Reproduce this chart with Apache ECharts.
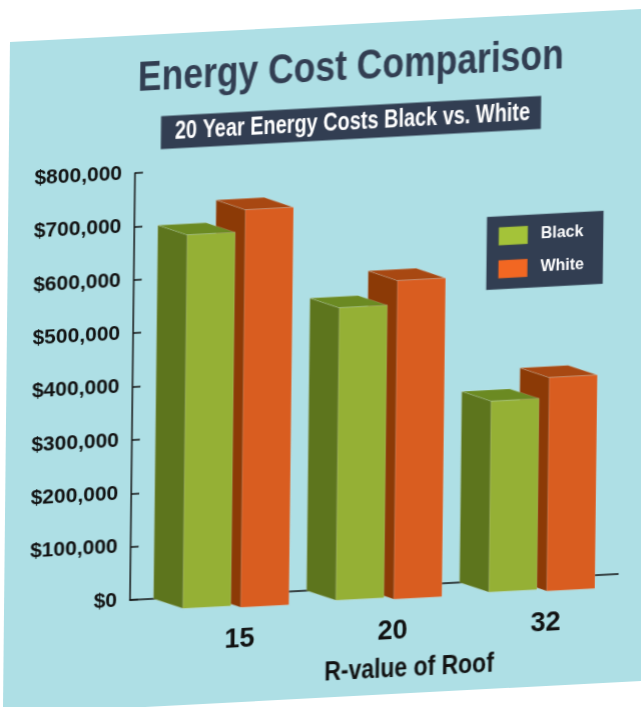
<!DOCTYPE html>
<html>
<head>
    <meta charset="utf-8">
    <title>Energy Cost Comparison</title>
    <script src="https://cdn.jsdelivr.net/npm/echarts@6/dist/echarts.min.js"></script>
</head>
<style>
    *{
        margin: 0;
        padding: 0;
    }
    html,body{
        width: 641px;
        height: 707px;
        overflow: hidden;
        background: #fff;
    }
    /* the teal sheet, tilted like the page in the original */
    .sheet{
        position: absolute;
        left: 0;
        top: 0;
        width: 641px;
        height: 707px;
        background: #aedfe5;
        clip-path: polygon(10px 42px, 641px 9px, 641px 681px, 145px 707px, 3px 707px);
    }
    /* whole chart is sheared a bit, same slant as the x axis and y axis */
    .echarts{
        position: absolute;
        left: 0;
        top: 0;
        width: 720px;
        height: 780px;
        transform-origin: 0 0;
        transform: matrix(1, -0.0533, -0.0117, 1, -12.75, -12);
    }
</style>
<body>
<div class="sheet"></div>
<div class="echarts"></div>

<script>
    const categories = ['15', '20', '32'];
    const blackValues = [700000, 548000, 358000];
    const whiteValues = [745000, 597000, 400000];
    const yMax = 800000;
    const yStep = 100000;

    const font = '"Liberation Sans", sans-serif';
    const navy = '#323e52';

    // 3d box sizes, in pixels
    const barW = 48;
    const depthX = 29.5;
    const depthY = 11.3;

    function boxRenderer(offset, shiftY, colors){
        return function (params, api) {
            let top = api.coord([api.value(0), api.value(1)]);
            let base = api.coord([api.value(0), 0]);
            let x = top[0] + offset;
            let t = top[1] + shiftY;
            let b = base[1] + shiftY;
            let edge = {stroke: 'rgba(235,240,235,0.3)', lineWidth: 0.6};
            return {
                type: 'group',
                children: [
                    {
                        type: 'polygon',
                        shape: {points: [[x, t], [x + depthX, t + depthY], [x + depthX, b + depthY], [x, b]]},
                        style: Object.assign({fill: colors.side}, edge)
                    },
                    {
                        type: 'polygon',
                        shape: {points: [[x, t], [x + barW, t], [x + barW + depthX, t + depthY], [x + depthX, t + depthY]]},
                        style: Object.assign({fill: colors.top}, edge)
                    },
                    {
                        type: 'polygon',
                        shape: {points: [[x + depthX, t + depthY], [x + depthX + barW, t + depthY], [x + depthX + barW, b + depthY], [x + depthX, b + depthY]]},
                        style: Object.assign({fill: colors.front}, edge)
                    }
                ]
            };
        };
    }

    // no condensed font here, so the big texts get squeezed with scaleX
    function squeezedText(text, x, y, size, scaleX, color){
        return {
            type: 'text',
            x: x,
            y: y,
            scaleX: scaleX,
            z: 10,
            style: {
                text: text,
                fill: color,
                font: 'bold ' + size + 'px ' + font,
                textAlign: 'center',
                textVerticalAlign: 'middle'
            }
        };
    }

    let chart = echarts.init(document.querySelector('.echarts'));
    let option = {
        animation: false,
        graphic: [
            squeezedText('Energy Cost Comparison', 364.7, 99.4, 43, 0.825, navy),
            {
                type: 'rect',
                shape: {x: 175.5, y: 137.4, width: 380, height: 33},
                style: {fill: navy},
                z: 9
            },
            squeezedText('20 Year Energy Costs Black vs. White', 367, 154, 25, 0.796, '#fff'),
            squeezedText('R-value of Roof', 430, 704, 27, 0.85, '#111')
        ],
        legend: {
            data: [
                {name: 'Black', itemStyle: {color: '#a4c339'}},
                {name: 'White', itemStyle: {color: '#f26722'}}
            ],
            orient: 'vertical',
            left: 502.7,
            top: 255.8,
            backgroundColor: navy,
            padding: [11, 19, 11, 12],
            itemWidth: 29,
            itemHeight: 18,
            itemGap: 15,
            icon: 'rect',
            selectedMode: false,
            textStyle: {color: '#fff', fontFamily: font, fontWeight: 'bold', fontSize: 16, padding: [0, 0, 0, 8]}
        },
        grid: [
            {left: 150, top: 193, width: 459, height: 427, containLabel: false},
            {left: 150, top: 193, width: 488, height: 427, containLabel: false}
        ],
        xAxis: [
            {
                gridIndex: 0,
                type: 'category',
                data: categories,
                axisLine: {show: false},
                axisTick: {show: false},
                axisLabel: {
                    margin: 32,
                    color: '#111',
                    fontFamily: font,
                    fontWeight: 'bold',
                    fontSize: 27,
                    padding: [0, 0, 0, 67]
                }
            },
            {
                // only the long base line, it runs past the last bars
                gridIndex: 1,
                type: 'value',
                min: 0,
                max: 1,
                splitLine: {show: false},
                axisTick: {show: false},
                axisLabel: {show: false},
                axisLine: {show: true, lineStyle: {color: '#111', width: 1.5}}
            }
        ],
        yAxis: [
            {
                gridIndex: 0,
                type: 'value',
                min: 0,
                max: yMax,
                interval: yStep,
                splitLine: {show: false},
                axisLine: {show: true, lineStyle: {color: '#111', width: 1.5}},
                axisTick: {show: true, inside: true, length: 8, lineStyle: {color: '#111', width: 1.5}},
                axisLabel: {
                    margin: 13,
                    color: '#111',
                    fontFamily: font,
                    fontWeight: 'bold',
                    fontSize: 21,
                    formatter: function (v) {
                        return '$' + v.toLocaleString('en-US');
                    }
                }
            },
            {
                gridIndex: 1,
                type: 'value',
                min: 0,
                max: yMax,
                show: false
            }
        ],
        series: [
            {
                name: 'Black',
                type: 'custom',
                xAxisIndex: 0,
                yAxisIndex: 0,
                z: 3,
                clip: false,
                itemStyle: {color: '#a4c339'},
                data: categories.map((c, i) => [i, blackValues[i]]),
                renderItem: boxRenderer(-53, 0, {front: '#95b035', side: '#5d751d', top: '#6b8a22'})
            },
            {
                name: 'White',
                type: 'custom',
                xAxisIndex: 0,
                yAxisIndex: 0,
                z: 2,
                clip: false,
                itemStyle: {color: '#f26722'},
                data: categories.map((c, i) => [i, whiteValues[i]]),
                renderItem: boxRenderer(5, 2, {front: '#d95d20', side: '#8c3a06', top: '#a84812'})
            }
        ]
    };
    chart.setOption(option);
</script>
</body>
</html>
